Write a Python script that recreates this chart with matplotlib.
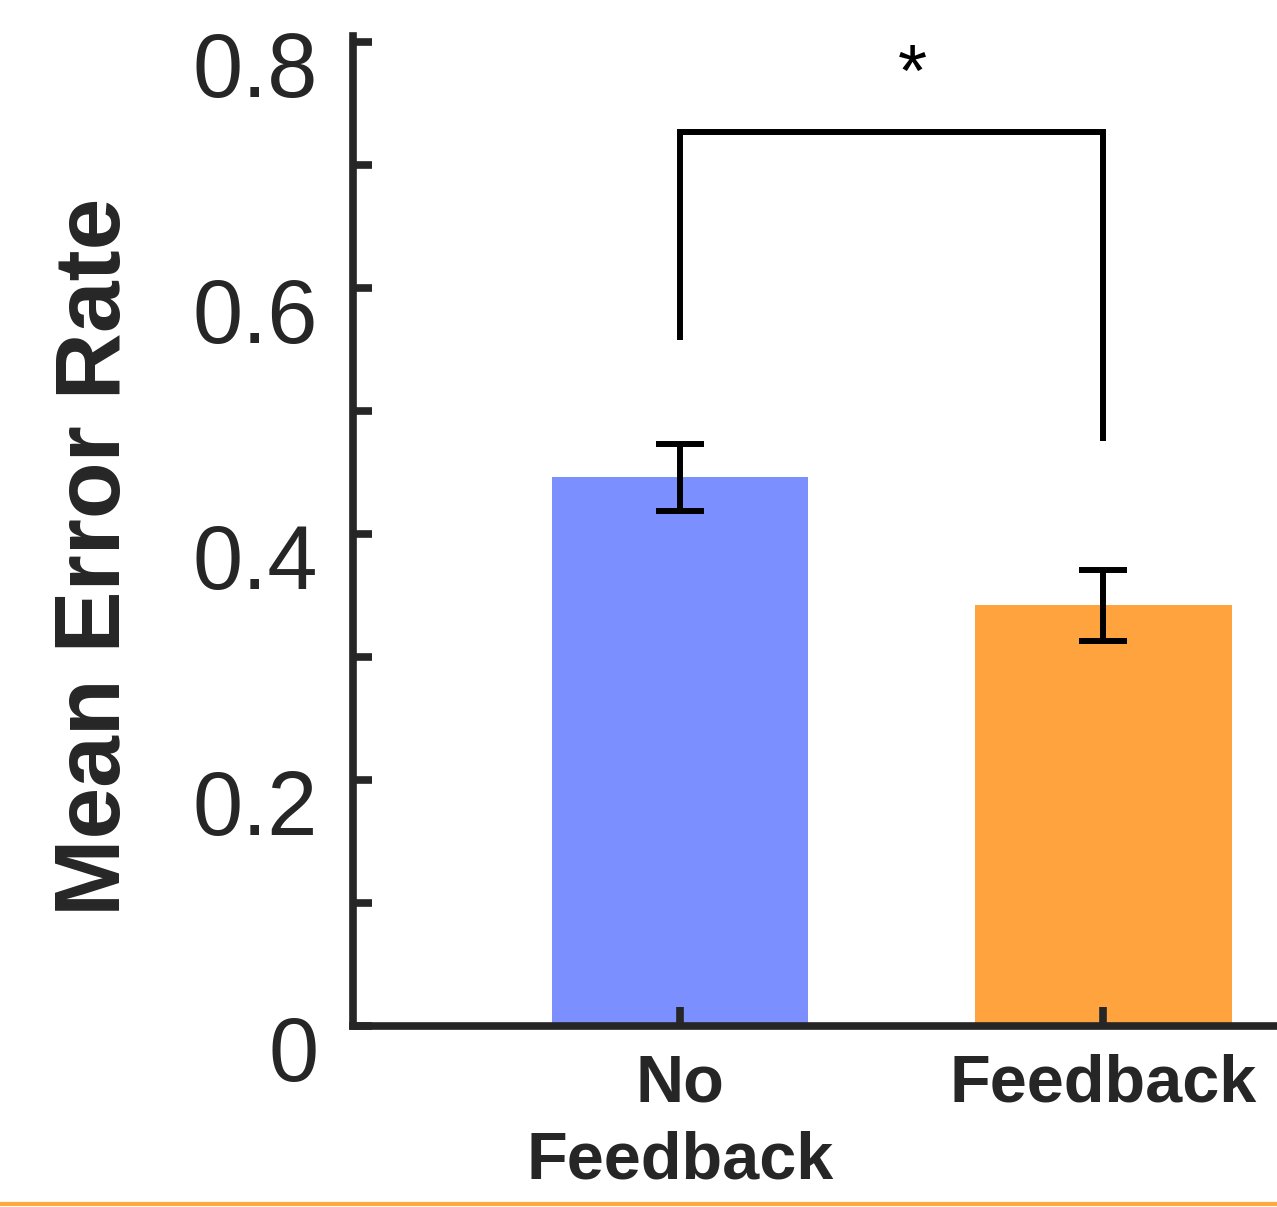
import numpy as np
import matplotlib.pyplot as plt
from matplotlib.transforms import ScaledTranslation
from matplotlib.lines import Line2D

plt.rcParams['font.family'] = ['Liberation Sans', 'DejaVu Sans']

# data
conditions = ['No\nFeedback', 'Feedback']
mean_error = [0.446, 0.342]
sem_error = [0.027, 0.029]
bar_colors = ['#7b8ffe', '#fea33d']
yticks = [0, 0.2, 0.4, 0.6, 0.8]
yticklabels = ['0', '0.2', '0.4', '0.6', '0.8']

dark = '#262626'
fig = plt.figure(figsize=(12.77, 12.07), dpi=100)
ax = fig.add_axes([0.2764, 0.15, 0.7236, 0.8202])

x = np.arange(1, len(conditions) + 1)
ax.bar(x, mean_error, width=0.607, color=bar_colors, zorder=1)
ax.errorbar(x, mean_error, yerr=sem_error, fmt='none', ecolor='black',
            elinewidth=4.3, capsize=17, capthick=4.3, zorder=3)

# significance bracket
ax.plot([1, 1, 2, 2], [0.558, 0.727, 0.727, 0.476], color='black', lw=4.3,
        solid_capstyle='butt', solid_joinstyle='miter', clip_on=False)
ax.text(1.55, 0.772, '*', ha='center', va='center', fontsize=54)

ax.set_xlim(0.227, 2.411)
ax.set_ylim(0, 0.805)
ax.set_xticks(x)
ax.set_xticklabels(conditions, fontsize=48, fontweight='bold', color=dark,
                   linespacing=1.3)
ax.set_yticks(yticks)
ax.set_yticks(np.arange(0.1, 0.8, 0.2), minor=True)
ax.set_yticklabels(yticklabels, fontsize=65, color=dark)

ax.tick_params(axis='y', which='both', direction='in', length=13.5, width=5.5,
               color=dark, pad=25)
ax.tick_params(axis='x', direction='in', length=14, width=5.5, color=dark,
               pad=20)
# y labels sit a bit below their ticks in the original
for lab in ax.get_yticklabels():
    lab.set_transform(lab.get_transform() +
                      ScaledTranslation(0, -0.22, fig.dpi_scale_trans))

ax.set_ylabel('Mean Error Rate', fontsize=67, fontweight='bold', color=dark)
ax.yaxis.set_label_coords(-0.232, 0.4737)

for side in ['top', 'right']:
    ax.spines[side].set_visible(False)
for side in ['left', 'bottom']:
    ax.spines[side].set_linewidth(5.5)
    ax.spines[side].set_color(dark)
    ax.spines[side].set_capstyle('projecting')

# thin orange rule along the bottom edge
fig.add_artist(Line2D([0, 1], [0.0025, 0.0025], transform=fig.transFigure,
                      color='#fea83e', lw=3))

fig.savefig('out.png', dpi=100)
